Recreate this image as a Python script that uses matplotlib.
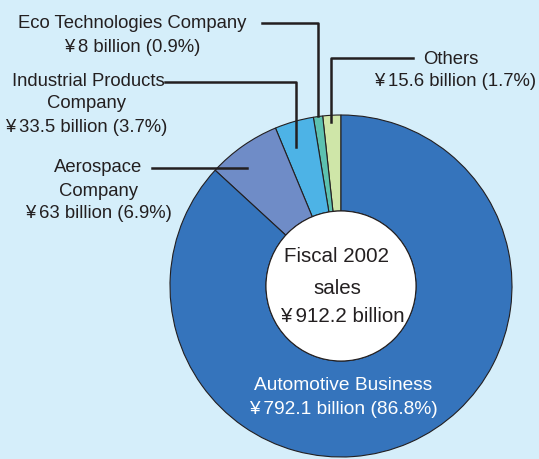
import matplotlib.pyplot as plt
from matplotlib.patches import Circle

plt.rcParams['font.family'] = ['Liberation Sans', 'DejaVu Sans']

# fiscal 2002 sales by segment, billions of yen (drawn from 12 o'clock, anticlockwise)
segments = ['Others', 'Eco Technologies Company', 'Industrial Products Company',
            'Aerospace Company', 'Automotive Business']
sales = [15.6, 8.0, 33.5, 63.0, 792.1]
shares = [1.7, 0.9, 3.7, 6.9, 86.8]
total = 912.2
colors = ['#cfe6a8', '#5cc1b0', '#4db3e6', '#6f8cc7', '#3574bc']

bg = '#d5eefa'
ink = '#231f20'

fig = plt.figure(figsize=(5.39, 4.59), dpi=100)
fig.patch.set_facecolor(bg)
ax = fig.add_axes([0, 0, 1, 1])
ax.set_facecolor(bg)

cx, cy = 341, 286
r_out, r_in = 171, 75

# y axis is flipped, so clockwise in data space reads anticlockwise on screen
ax.pie(sales, colors=colors, startangle=-90, counterclock=False,
       center=(cx, cy), radius=r_out, frame=True,
       wedgeprops=dict(width=r_out - r_in, edgecolor=ink, linewidth=0.8))
ax.set_xlim(0, 539)
ax.set_ylim(459, 0)
ax.set_aspect('equal')
ax.axis('off')

ax.add_patch(Circle((cx, cy), r_in, facecolor='white', edgecolor=ink,
                    linewidth=0.8, zorder=5))

def yen(v):
    s = ('%.1f' % v).rstrip('0').rstrip('.')
    return '\u00a5\u2009' + s

fs = 13.3

# leader lines
lw = 1.8
ax.plot([262, 318, 318], [23, 23, 116], color=ink, lw=lw, zorder=6)
ax.plot([413, 331, 331], [58, 58, 122], color=ink, lw=lw, zorder=6)
ax.plot([165, 296, 296], [82, 82, 147], color=ink, lw=lw, zorder=6)
ax.plot([152, 247], [168, 168], color=ink, lw=lw, zorder=6)

ax.text(132, 24, segments[1], ha='center', va='center', fontsize=fs, color=ink)
ax.text(132, 47, '%s billion (%.1f%%)' % (yen(sales[1]), shares[1]),
        ha='center', va='center', fontsize=fs, color=ink)

ax.text(165, 82, 'Industrial Products', ha='right', va='center', fontsize=fs, color=ink)
ax.text(86, 104, 'Company', ha='center', va='center', fontsize=fs, color=ink)
ax.text(86, 127, '%s billion (%.1f%%)' % (yen(sales[2]), shares[2]),
        ha='center', va='center', fontsize=fs, color=ink)

ax.text(98, 168, 'Aerospace', ha='center', va='center', fontsize=fs, color=ink)
ax.text(98, 191, 'Company', ha='center', va='center', fontsize=fs, color=ink)
ax.text(98, 213, '%s billion (%.1f%%)' % (yen(sales[3]), shares[3]),
        ha='center', va='center', fontsize=fs, color=ink)

ax.text(451, 60, segments[0], ha='center', va='center', fontsize=fs, color=ink)
ax.text(455, 82, '%s billion (%.1f%%)' % (yen(sales[0]), shares[0]),
        ha='center', va='center', fontsize=fs, color=ink)

ax.text(343, 385, segments[4], ha='center', va='center', fontsize=fs + 0.5, color='white', zorder=7)
ax.text(343, 410, '%s billion (%.1f%%)' % (yen(sales[4]), shares[4]),
        ha='center', va='center', fontsize=fs + 0.5, color='white', zorder=7)

cfs = 14.8
ax.text(337, 257, 'Fiscal 2002', ha='center', va='center', fontsize=cfs,
        color=ink, zorder=7)
ax.text(337, 288, 'sales', ha='center', va='center', fontsize=cfs,
        color=ink, zorder=7)
ax.text(342, 317, '%s billion' % yen(total), ha='center', va='center', fontsize=cfs,
        color=ink, zorder=7)

fig.savefig('out.png', dpi=100, facecolor=bg)
